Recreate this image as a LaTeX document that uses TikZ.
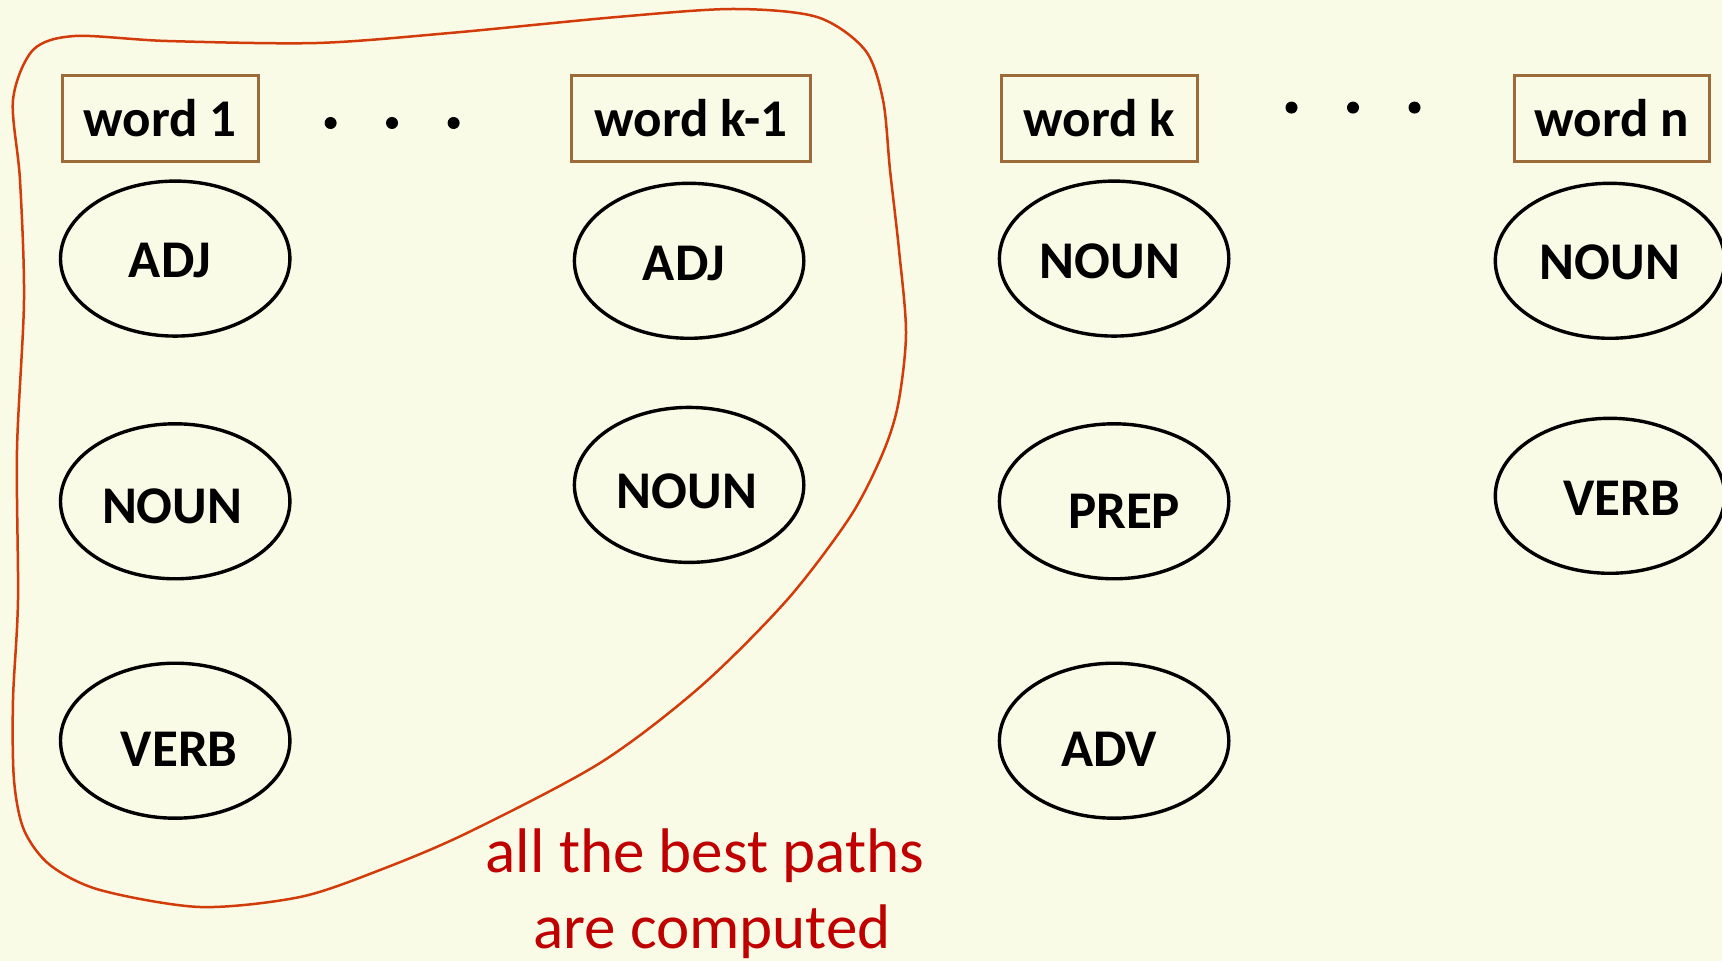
\documentclass[tikz,border=0pt]{standalone}
\usepackage{fontspec}
\setmainfont{Carlito}
\usetikzlibrary{shapes.geometric}
\definecolor{bg}{RGB}{249,251,230}
\definecolor{boxbrown}{RGB}{157,106,58}
\definecolor{curvered}{RGB}{210,60,10}
\definecolor{textred}{RGB}{192,0,0}
\begin{document}
\begin{tikzpicture}[x=0.5pt,y=-0.5pt,
 wordbox/.style={draw=boxbrown,line width=1.5pt,minimum width=97.75pt,minimum height=42.75pt,inner sep=0pt,font=\fontsize{26.5}{30}\selectfont\bfseries},
 tagell/.style={ellipse,draw=black,line width=1.7pt,minimum width=114.7pt,minimum height=77.5pt,inner sep=0pt},
 tagtxt/.style={font=\fontsize{26.5}{30}\selectfont\bfseries,inner sep=0pt},
 dotmark/.style={circle,fill=black,minimum size=6pt,inner sep=0pt},
 note/.style={text=textred,font=\fontsize{31.5}{38}\selectfont,inner sep=0pt,anchor=base}]
\fill[bg] (0,0) rectangle (1722,961);
\useasboundingbox (0,0) rectangle (1722,961);

% region of computed paths
\draw[curvered,line width=1.25pt] plot[smooth cycle,tension=0.5] coordinates {
 (13,100) (33,50) (75,36) (167,41) (317,43) (450,33) (617,17) (733,9) (817,17)
 (865,50) (883,100) (890,170) (899,250) (906,333) (898,405) (882,455)
 (850,517) (787,600) (700,687) (600,763) (467,833) (380,870) (300,897) (200,907) (100,890) (50,865)
 (24,830) (14,780) (13,700) (18,600) (17,450) (24,300) (20,180)};

% word boxes
\node[wordbox] (w1) at (160.3,118.5) {word 1};
\node[wordbox,minimum width=119.25pt] (wk1) at (691,118.5) {word k-1};
\node[wordbox] (wk) at (1099.3,118.5) {word k};
\node[wordbox] (wn) at (1612,118.5) {word n};

% dots
\node[dotmark] (d1) at (330.6,123) {};
\node[dotmark] (d2) at (392,123) {};
\node[dotmark] (d3) at (453.6,123) {};
\node[dotmark] (d4) at (1291.5,107.6) {};
\node[dotmark] (d5) at (1353,107.6) {};
\node[dotmark] (d6) at (1414.5,107.6) {};

% tag ellipses
\node[tagell] (e11) at (175.2,258.6) {};
\node[tagell] (e12) at (175.2,501.3) {};
\node[tagell] (e13) at (175.2,740.7) {};
\node[tagell] (e21) at (689.1,260.8) {};
\node[tagell] (e22) at (689.1,484.9) {};
\node[tagell] (e31) at (1114.1,258.6) {};
\node[tagell] (e32) at (1114.1,501.3) {};
\node[tagell] (e33) at (1114.1,740.7) {};
\node[tagell] (e41) at (1610,260.8) {};
\node[tagell] (e42) at (1610,495.8) {};

% tag labels
\node[tagtxt] (t11) at ([shift={(-5,2)}]e11.center) {ADJ};
\node[tagtxt] (t12) at ([shift={(-3,5)}]e12.center) {NOUN};
\node[tagtxt] (t13) at ([shift={(4,9)}]e13.center) {VERB};
\node[tagtxt] (t21) at ([shift={(-5,3)}]e21.center) {ADJ};
\node[tagtxt] (t22) at ([shift={(-2,6)}]e22.center) {NOUN};
\node[tagtxt] (t31) at ([shift={(-4,3)}]e31.center) {NOUN};
\node[tagtxt] (t32) at ([shift={(10,10)}]e32.center) {PREP};
\node[tagtxt] (t33) at ([shift={(-5,9)}]e33.center) {ADV};
\node[tagtxt] (t41) at ([shift={(0,2)}]e41.center) {NOUN};
\node[tagtxt] (t42) at ([shift={(12,3)}]e42.center) {VERB};

% note
\node[note] (n1) at (705,872) {all the best paths};
\node[note] (n2) at (712,948) {are computed};
\end{tikzpicture}
\end{document}
